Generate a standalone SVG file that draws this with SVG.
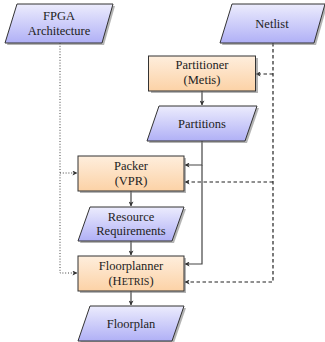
<svg xmlns="http://www.w3.org/2000/svg" width="325" height="342" viewBox="0 0 325 342" font-family="'Liberation Serif', 'DejaVu Serif', serif">
<defs>
<linearGradient id="gb" x1="0" y1="0" x2="0" y2="1">
<stop offset="0" stop-color="#ececfd"/>
<stop offset="1" stop-color="#b0b0f6"/>
</linearGradient>
<linearGradient id="go" x1="0" y1="0" x2="0" y2="1">
<stop offset="0" stop-color="#feeedd"/>
<stop offset="1" stop-color="#fcd2a6"/>
</linearGradient>
<marker id="ar" viewBox="0 0 6 6" refX="5.5" refY="3" markerWidth="5" markerHeight="5" orient="auto" markerUnits="userSpaceOnUse">
<path d="M0,0 L6,3 L0,6 L1.5,3 z" fill="#333"/>
</marker>
<style>
.io{fill:url(#gb);stroke:#333;stroke-width:1}
.pr{fill:url(#go);stroke:#333;stroke-width:1}
.sh{fill:#777;opacity:0.55}
text{font-family:'Liberation Serif','DejaVu Serif',serif;font-size:12.5px;fill:#222;text-anchor:middle}
.sc{font-size:10px}
.c{fill:none;stroke:#444;stroke-width:1.2}
.d{fill:none;stroke:#222;stroke-width:1.2;stroke-dasharray:3.5 2.5}
.o{fill:none;stroke:#444;stroke-width:1;stroke-dasharray:1 1.8}
</style>
</defs>

<g id="connectors">
<path class="c" d="M202,91 V105" marker-end="url(#ar)"/>
<path class="c" d="M202,141 V165 H185" marker-end="url(#ar)"/>
<path class="c" d="M202,165 V264 H185" marker-end="url(#ar)"/>
<path class="c" d="M131,191 V206" marker-end="url(#ar)"/>
<path class="c" d="M131,241 V255" marker-end="url(#ar)"/>
<path class="c" d="M131,291 V305" marker-end="url(#ar)"/>
<path class="d" d="M273,43 V282 H185" marker-end="url(#ar)"/>
<path class="d" d="M273,74 H256" marker-end="url(#ar)"/>
<path class="d" d="M273,182 H185" marker-end="url(#ar)"/>
<path class="o" d="M60,43 V273 H77" marker-end="url(#ar)"/>
<path class="o" d="M60,173 H77" marker-end="url(#ar)"/>
</g>

<g id="fpga">
<polygon class="sh" points="19,6 115,6 104,45 7,45"/>
<polygon class="io" points="17,4 113,4 102,43 5,43"/>
<text x="59" y="20">FPGA</text>
<text x="59" y="35">Architecture</text>
</g>

<g id="netlist">
<polygon class="sh" points="234,6 327,6 316,45 222,45"/>
<polygon class="io" points="232,4 325,4 314,43 220,43"/>
<text x="272" y="28">Netlist</text>
</g>

<g id="partitioner">
<rect class="sh" x="151" y="58" width="107" height="35"/>
<rect class="pr" x="148.5" y="56" width="107" height="35"/>
<text x="202" y="69">Partitioner</text>
<text x="202" y="84">(Metis)</text>
</g>

<g id="partitions">
<polygon class="sh" points="161,108 259,108 247,143 149,143"/>
<polygon class="io" points="159,106 257,106 245,141 147,141"/>
<text x="202" y="128">Partitions</text>
</g>

<g id="packer">
<rect class="sh" x="80" y="158" width="106" height="35"/>
<rect class="pr" x="78" y="156" width="106" height="35"/>
<text x="131" y="170">Packer</text>
<text x="131" y="185">(VPR)</text>
</g>

<g id="resources">
<polygon class="sh" points="92,209 186,209 174,243 80,243"/>
<polygon class="io" points="90,207 184,207 172,241 78,241"/>
<text x="131" y="221">Resource</text>
<text x="131" y="235">Requirements</text>
</g>

<g id="floorplanner">
<rect class="sh" x="80" y="258" width="106" height="35"/>
<rect class="pr" x="78" y="256" width="106" height="35"/>
<text x="131" y="270">Floorplanner</text>
<text x="131" y="285">(H<tspan class="sc">ETRIS</tspan>)</text>
</g>

<g id="floorplan">
<polygon class="sh" points="92,308 186,308 174,343 80,343"/>
<polygon class="io" points="90,306 184,306 172,341 78,341"/>
<text x="131" y="328">Floorplan</text>
</g>
</svg>
